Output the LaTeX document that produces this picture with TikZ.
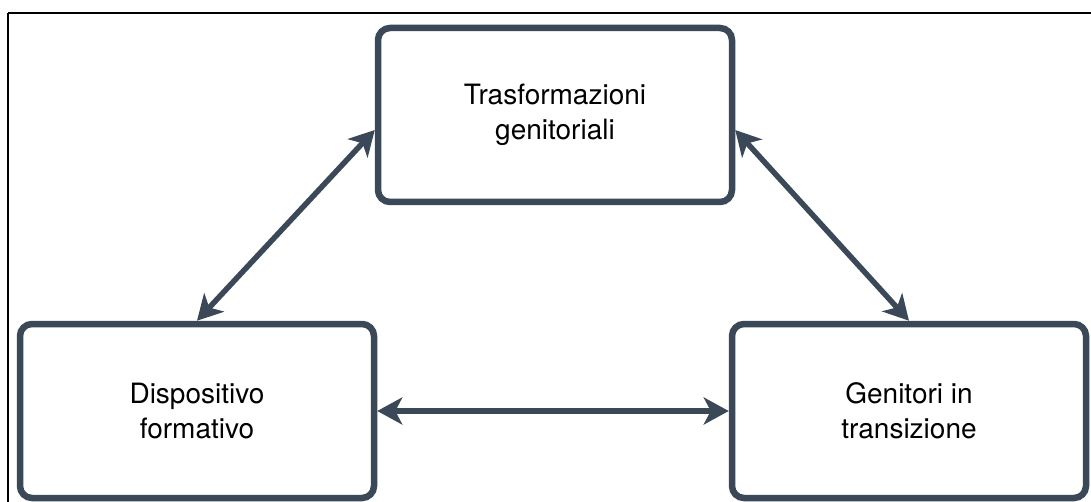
\documentclass[tikz,border=0pt]{standalone}
\usepackage{fontspec}
\setmainfont{TeX Gyre Heros}
\usetikzlibrary{arrows.meta,calc}
\definecolor{boxc}{HTML}{3A4858}
\tikzset{
  box/.style={draw=boxc, line width=6.5pt, rounded corners=12pt, fill=white,
    minimum width=354pt, minimum height=174pt, align=center, inner sep=0pt,
    font=\fontsize{28}{35}\selectfont},
  conn/.style={draw=boxc, line width=5.5pt,
    {Stealth[length=25pt,width=27pt,inset=7pt]}-{Stealth[length=25pt,width=27pt,inset=7pt]}},
  frame/.style={draw=black, line width=2pt}
}
\begin{document}
\begin{tikzpicture}[x=1pt,y=-1pt]
\useasboundingbox (0,0) rectangle (1091,502);
\clip (0,0) rectangle (1091,502);
\draw[frame] (8,13.5) -- (1200,13.5);
\draw[frame] (8,13.5) -- (8,600);
\node[box] (T) at (555,115) {Trasformazioni\\genitoriali};
\node[box] (L) at (197,411) {Dispositivo\\formativo};
\node[box] (R) at (909,411) {Genitori in\\transizione};
\draw[conn] (L.north) -- ($(T.west)+(0,15)$);
\draw[conn] ($(T.east)+(0,15)$) -- (R.north);
\draw[conn] (L.east) -- (R.west);
\end{tikzpicture}
\end{document}
